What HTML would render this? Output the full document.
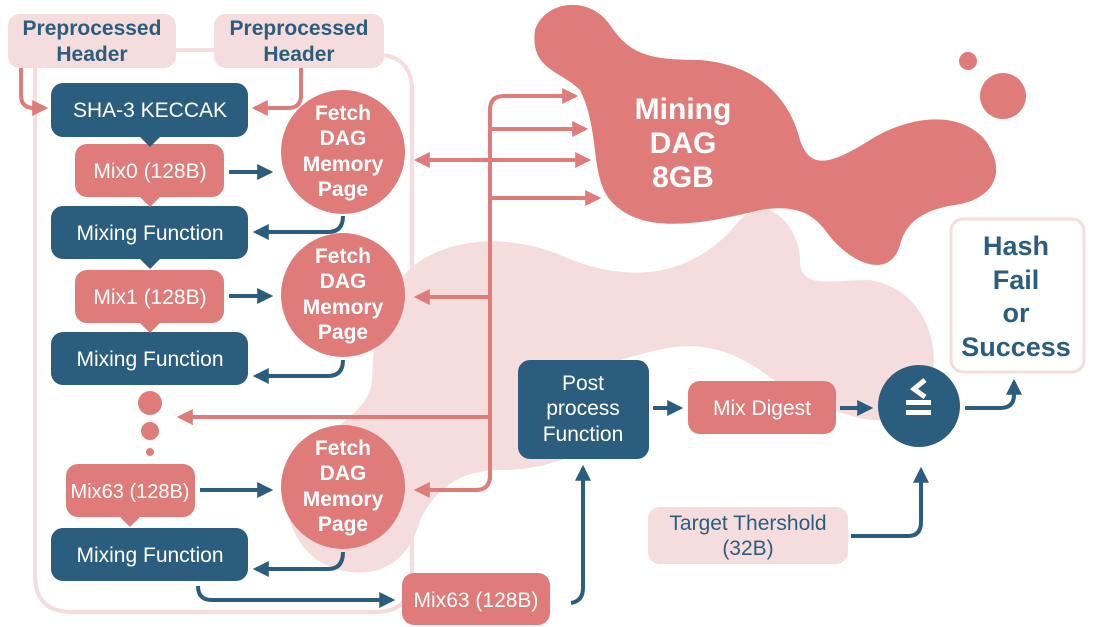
<!DOCTYPE html>
<html><head><meta charset="utf-8"><style>
html,body{margin:0;padding:0;background:#fff}
svg{display:block}
text{font-family:"Liberation Sans",sans-serif}
</style></head><body>
<svg width="1093" height="627" viewBox="0 0 1093 627" xmlns="http://www.w3.org/2000/svg">
<defs>
<marker id="ab" viewBox="0 0 10 10" refX="8" refY="5" markerWidth="4" markerHeight="4" orient="auto"><path d="M0,0 L10,5 L0,10 z" fill="#2b5d7e"/></marker>
<marker id="ac" viewBox="0 0 10 10" refX="8" refY="5" markerWidth="4" markerHeight="4" orient="auto"><path d="M0,0 L10,5 L0,10 z" fill="#df7b78"/></marker>
</defs>
<!-- pale blob -->
<path d="M400,280 C430,240 500,230 560,255 C640,290 700,270 740,220 C770,190 800,230 800,260 C800,290 830,280 870,280 C930,290 950,360 920,410 C880,440 800,400 760,370 C700,330 660,350 620,360 L620,420 C600,445 560,470 500,470 C470,470 440,480 420,520 C410,560 380,580 340,570 C300,560 280,520 290,480 C300,440 370,420 372,380 C374,330 380,300 400,280 Z" fill="#f5dddd"/>
<!-- mining blob -->
<path d="M535,30 C545,0 590,-5 610,25 C630,55 650,60 700,60 C760,65 790,100 800,140 C810,170 830,165 870,140 C910,115 960,110 985,140 C1010,175 990,200 955,205 C920,210 905,225 900,245 C890,280 850,265 825,230 C810,210 790,205 760,210 C700,225 640,235 610,200 C590,175 600,130 580,90 C560,70 530,70 535,30 Z" fill="#df7b78"/>
<circle cx="968" cy="61" r="9" fill="#df7b78"/>
<circle cx="1003" cy="96" r="23" fill="#df7b78"/>
<text x="683" y="119" font-size="30" font-weight="bold" fill="#fff" text-anchor="middle">Mining</text>
<text x="683" y="153" font-size="30" font-weight="bold" fill="#fff" text-anchor="middle">DAG</text>
<text x="683" y="187" font-size="30" font-weight="bold" fill="#fff" text-anchor="middle">8GB</text>
<!-- container -->
<path d="M35,68 L35,575 Q35,612 72,612 L375,612 Q412,612 412,575 L412,90 Q412,60 384,55" fill="none" stroke="#f5dddd" stroke-width="4"/>
<line x1="176" y1="50" x2="214" y2="50" stroke="#f5dddd" stroke-width="4"/>
<rect x="8" y="14" width="168" height="54" rx="12" fill="#f5dddd"/>
<rect x="214" y="14" width="170" height="54" rx="12" fill="#f5dddd"/>
<text x="92" y="35" font-size="21" font-weight="bold" fill="#2b5d7e" text-anchor="middle">Preprocessed</text>
<text x="92" y="61" font-size="21" font-weight="bold" fill="#2b5d7e" text-anchor="middle">Header</text>
<text x="299" y="35" font-size="21" font-weight="bold" fill="#2b5d7e" text-anchor="middle">Preprocessed</text>
<text x="299" y="61" font-size="21" font-weight="bold" fill="#2b5d7e" text-anchor="middle">Header</text>
<path d="M21,68 L21,95 Q21,108 34,108 L45,108" fill="none" stroke="#df7b78" stroke-width="4" marker-end="url(#ac)"/>
<path d="M301,68 L301,95 Q301,108 288,108 L255,108" fill="none" stroke="#df7b78" stroke-width="4" marker-end="url(#ac)"/>
<!-- left column -->
<g font-size="21" fill="#fff" text-anchor="middle">
<rect x="51" y="83" width="197" height="54" rx="12" fill="#2b5d7e"/><text x="150" y="117">SHA-3 KECCAK</text>
<rect x="75" y="144" width="149" height="53" rx="12" fill="#df7b78"/><text x="150" y="178">Mix0 (128B)</text>
<rect x="51" y="206" width="197" height="53" rx="12" fill="#2b5d7e"/><text x="150" y="240">Mixing Function</text>
<rect x="75" y="270" width="149" height="53" rx="12" fill="#df7b78"/><text x="150" y="304">Mix1 (128B)</text>
<rect x="51" y="332" width="197" height="53" rx="12" fill="#2b5d7e"/><text x="150" y="366">Mixing Function</text>
<rect x="66" y="464" width="129" height="53" rx="12" fill="#df7b78"/><text x="130" y="498" font-size="20">Mix63 (128B)</text>
<rect x="51" y="528" width="197" height="53" rx="12" fill="#2b5d7e"/><text x="150" y="562">Mixing Function</text>
</g>
<path d="M140,137 L160,137 L150,147 Z" fill="#2b5d7e"/>
<path d="M140,197 L160,197 L150,207 Z" fill="#df7b78"/>
<path d="M140,259 L160,259 L150,269 Z" fill="#2b5d7e"/>
<path d="M140,323 L160,323 L150,333 Z" fill="#df7b78"/>
<path d="M120,517 L140,517 L130,527 Z" fill="#df7b78"/>
<circle cx="150" cy="403" r="12" fill="#df7b78"/>
<circle cx="150" cy="431" r="9" fill="#df7b78"/>
<circle cx="150" cy="452" r="4" fill="#df7b78"/>
<!-- fetch circles -->
<g font-size="21" font-weight="bold" fill="#fff" text-anchor="middle">
<circle cx="343" cy="152" r="62" fill="#df7b78"/>
<text x="343" y="120">Fetch</text><text x="343" y="145">DAG</text><text x="343" y="171">Memory</text><text x="343" y="196">Page</text>
<circle cx="343" cy="295" r="62" fill="#df7b78"/>
<text x="343" y="263">Fetch</text><text x="343" y="288">DAG</text><text x="343" y="314">Memory</text><text x="343" y="339">Page</text>
<circle cx="343" cy="487" r="62" fill="#df7b78"/>
<text x="343" y="455">Fetch</text><text x="343" y="480">DAG</text><text x="343" y="506">Memory</text><text x="343" y="531">Page</text>
</g>
<!-- blue arrows -->
<g fill="none" stroke="#2b5d7e" stroke-width="4">
<line x1="229" y1="172" x2="270" y2="172" marker-end="url(#ab)"/>
<line x1="229" y1="296" x2="270" y2="296" marker-end="url(#ab)"/>
<line x1="200" y1="490" x2="270" y2="490" marker-end="url(#ab)"/>
<path d="M343,216 Q343,232 328,232 L256,232" marker-end="url(#ab)"/>
<path d="M343,360 Q343,376 328,376 L256,376" marker-end="url(#ab)"/>
<path d="M343,552 Q343,569 328,569 L256,569" marker-end="url(#ab)"/>
<path d="M198,586 Q198,600 212,600 L392,600" marker-end="url(#ab)"/>
<path d="M571,603 Q583,601 583,588 L583,468" marker-end="url(#ab)"/>
<line x1="653" y1="408" x2="680" y2="408" marker-end="url(#ab)"/>
<line x1="840" y1="408" x2="870" y2="408" marker-end="url(#ab)"/>
<path d="M851,536 L908,536 Q921,536 921,522 L921,470" marker-end="url(#ab)"/>
<path d="M965,408 L1000,408 Q1014,408 1014,395 L1014,382" marker-end="url(#ab)"/>
</g>
<!-- coral arrows -->
<g fill="none" stroke="#df7b78" stroke-width="4">
<path d="M490,480 L490,110 Q490,96 504,96 L575,96" marker-end="url(#ac)"/>
<line x1="490" y1="129" x2="585" y2="129" marker-end="url(#ac)"/>
<line x1="490" y1="160" x2="588" y2="160" marker-end="url(#ac)"/>
<line x1="490" y1="198" x2="598" y2="198" marker-end="url(#ac)"/>
<line x1="490" y1="160" x2="417" y2="160" marker-end="url(#ac)"/>
<line x1="490" y1="297" x2="417" y2="297" marker-end="url(#ac)"/>
<line x1="490" y1="417" x2="180" y2="417" marker-end="url(#ac)"/>
<path d="M490,475 Q490,490 476,490 L417,490" marker-end="url(#ac)"/>
</g>
<!-- bottom mix63 -->
<rect x="402" y="573" width="148" height="52" rx="12" fill="#df7b78"/>
<text x="476" y="607" font-size="21" fill="#fff" text-anchor="middle">Mix63 (128B)</text>
<!-- post process -->
<rect x="518" y="360" width="131" height="99" rx="12" fill="#2b5d7e"/>
<g font-size="21" fill="#fff" text-anchor="middle">
<text x="583" y="390">Post</text><text x="583" y="415">process</text><text x="583" y="441">Function</text>
</g>
<rect x="688" y="381" width="148" height="53" rx="12" fill="#df7b78"/>
<text x="762" y="415" font-size="21" fill="#fff" text-anchor="middle">Mix Digest</text>
<circle cx="919" cy="406" r="41" fill="#2b5d7e"/>
<path d="M925,380 L914,389 L925,397" fill="none" stroke="#fff" stroke-width="5"/>
<rect x="906" y="400" width="25" height="5" fill="#fff"/>
<rect x="906" y="410" width="25" height="5" fill="#fff"/>
<rect x="648" y="507" width="200" height="57" rx="12" fill="#f5dddd"/>
<text x="748" y="530" font-size="21" fill="#2b5d7e" text-anchor="middle">Target Thershold</text>
<text x="748" y="555" font-size="21" fill="#2b5d7e" text-anchor="middle">(32B)</text>
<rect x="951" y="219" width="133" height="153" rx="12" fill="#fff" stroke="#f5dddd" stroke-width="3"/>
<g font-size="27" font-weight="bold" fill="#2b5d7e" text-anchor="middle">
<text x="1016" y="255">Hash</text><text x="1016" y="289">Fail</text><text x="1016" y="322">or</text><text x="1016" y="356">Success</text>
</g>
</svg>
</body></html>
